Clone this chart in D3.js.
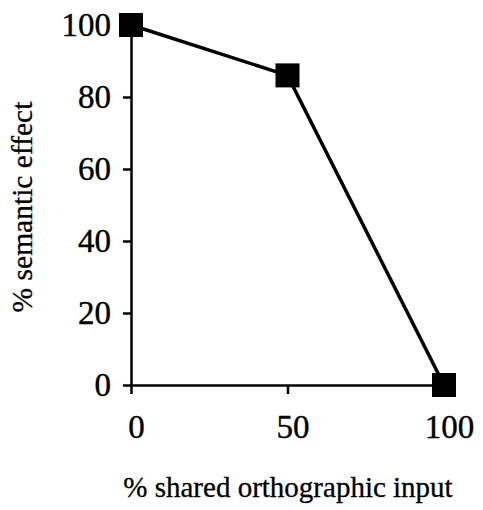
<!DOCTYPE html>
<html>
<head>
<meta charset="utf-8">
<script src="https://cdn.jsdelivr.net/npm/d3@7"></script>
<style>
	body{ margin:0; background:#fff; }
	text{ font-family:"Liberation Serif","Times New Roman",serif; fill:#000; }
</style>
</head>
<body>
<div id="chart"></div>
<script>
// values
var sharedInput = [0, 50, 100];
var semanticEffect = [100, 86, 0];
var xTicks = [0, 50, 100];
var yTicks = [0, 20, 40, 60, 80, 100];

var width = 483, height = 510;
var margin = {top: 25, right: 39, bottom: 125, left: 131};

var svg = d3.select("#chart").append("svg")
	.attr("width", width)
	.attr("height", height);

var x = d3.scaleLinear().domain([0, 100]).range([margin.left, width - margin.right]);
var y = d3.scaleLinear().domain([0, 100]).range([height - margin.bottom, margin.top]);

var xAxis = svg.append("g")
	.attr("transform", "translate(0," + y(0) + ")")
	.call(d3.axisBottom(x).tickValues(xTicks).tickSize(9).tickSizeOuter(0).tickPadding(13));

var yAxis = svg.append("g")
	.attr("transform", "translate(" + x(0) + ",0)")
	.call(d3.axisLeft(y).tickValues(yTicks).tickSize(8).tickSizeOuter(0).tickPadding(12));

[xAxis, yAxis].forEach(function(g){
	g.select(".domain").attr("stroke", "#000").attr("stroke-width", 2.5);
	g.selectAll(".tick line").attr("stroke", "#000").attr("stroke-width", 2.5);
	g.selectAll(".tick text")
		.attr("font-family", "Liberation Serif")
		.attr("font-size", 33)
		.attr("fill", "#000")
		.attr("stroke", "#000")
		.attr("stroke-width", 0.4);
});
xAxis.selectAll(".tick text").attr("dx", 5).attr("dy", "0.95em");

var points = sharedInput.map(function(v, i){ return {x: v, y: semanticEffect[i]}; });

svg.append("path")
	.datum(points)
	.attr("fill", "none")
	.attr("stroke", "#000")
	.attr("stroke-width", 3.5)
	.attr("d", d3.line().x(function(d){ return x(d.x); }).y(function(d){ return y(d.y); }));

var size = 24;
svg.append("g")
	.selectAll("rect")
	.data(points)
	.enter().append("rect")
		.attr("x", function(d){ return x(d.x) - size / 2; })
		.attr("y", function(d){ return y(d.y) - size / 2; })
		.attr("width", size)
		.attr("height", size)
		.attr("fill", "#000");

svg.append("text")
	.attr("x", 288)
	.attr("y", 497)
	.attr("text-anchor", "middle")
	.attr("font-size", 29)
	.attr("stroke", "#000")
	.attr("stroke-width", 0.3)
	.text("% shared orthographic input");

svg.append("text")
	.attr("transform", "translate(32," + 207 + ") rotate(-90)")
	.attr("text-anchor", "middle")
	.attr("font-size", 29.5)
	.attr("stroke", "#000")
	.attr("stroke-width", 0.3)
	.text("% semantic effect");
</script>
</body>
</html>
